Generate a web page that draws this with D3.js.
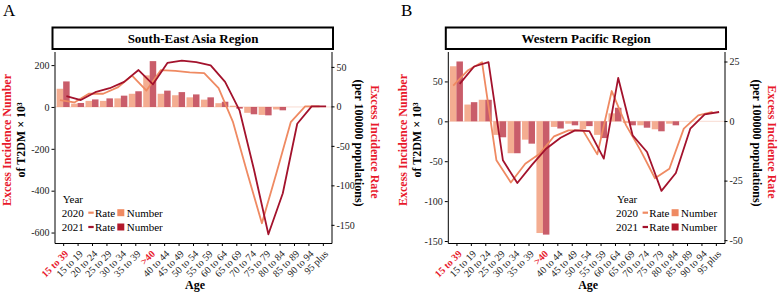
<!DOCTYPE html>
<html><head><meta charset="utf-8">
<script src="https://cdn.jsdelivr.net/npm/d3@7"></script>
<style>
body{margin:0;background:#fff}
svg{font-family:"Liberation Serif","Times New Roman",serif}
</style>
</head><body>
<svg id="c" width="778" height="292"></svg>
<script>
// ---- data ----
const ages = ["15 to 39","15 to 19","20 to 24","25 to 29","30 to 34","35 to 39",">40",
  "40 to 44","45 to 49","50 to 54","55 to 59","60 to 64","65 to 69","70 to 74",
  "75 to 79","80 to 84","85 to 89","90 to 94","95 plus"];
const highlightAges = ["15 to 39", ">40"];
const years = ["2020", "2021"];

// South-East Asia Region
const seaNumber2020 = [87, 16, 29, 29, 41, 63, 151, 63, 56, 46, 35, 18, 6, -28, -38, -12, 0, 0, 0];
const seaNumber2021 = [122, 19, 36, 41, 54, 75, 219, 78, 71, 60, 46, 25, -8, -35, -40, -16, 0, 0, 0];
const seaRate2020 = [8, 5, 16, 16, 24, 39, 20, 46, 45, 43, 42, 23, -20, -85, -148, -85, -20, 0, 0];
const seaRate2021 = [13, 8, 18, 23, 31, 46, 28, 55, 58, 56, 52, 31, -5, -80, -162, -110, -22, 0, 0];
const seaNumberTicks = [200, 0, -200, -400, -600];
const seaRateTicks = [50, 0, -50, -100, -150];

// Western Pacific Region
const wprNumber2020 = [69, 21, 27, -17, -40, -23, -140, -7, -3, -10, -17, 10, -2, -5, -10, -3, 0, 0, 0];
const wprNumber2021 = [75, 24, 27, -20, -40, -28, -142, -9, -5, -6, -21, 17, -5, -8, -12.5, -5, 0, 0, 0];
const wprRate2020 = [14.9, 21.2, 24.7, -16.5, -25.8, -17.9, -13.7, -6.4, -3.9, -3.9, -14, 12.6, -1.8, -12.3, -24, -20, -3.2, 2.4, 3.8];
const wprRate2021 = [15.6, 22.9, 24.7, -16.5, -26, -18.5, -11.6, -7, -3.9, -4.2, -15.8, 18.1, -6, -13, -29.3, -21.8, -3.2, 2.8, 3.8];
const wprNumberTicks = [50, 0, -50, -100, -150];
const wprRateTicks = [25, 0, -25, -50];

// ---- styles ----
const barColors = ["#ef8a62", "#b2182b"];
const lineColors = ["#ef8a62", "#a3122c"];
const red = "#e8192c";
const serif = "Liberation Serif, Times New Roman, serif";

const panels = [
  {letter:"A", title:"South-East Asia Region", x0:54.5, x1:331.5,
   num:[seaNumber2020, seaNumber2021], rate:[seaRate2020, seaRate2021],
   numDomain:[-650, 265], rateDomain:[-173, 69.5],
   numTicks:seaNumberTicks, rateTicks:seaRateTicks,
   legendX:61.7, letterX:3, lt:[11, 25], rt:[355, 371]},
  {letter:"B", title:"Western Pacific Region", x0:447.8, x1:724.5,
   num:[wprNumber2020, wprNumber2021], rate:[wprRate2020, wprRate2021],
   numDomain:[-152.5, 87.5], rateDomain:[-51.2, 29.2],
   numTicks:wprNumberTicks, rateTicks:wprRateTicks,
   legendX:616, letterX:401, lt:[406.5, 421], rt:[752.5, 767.5]}
];

const svg = d3.select("#c");
const yTop = 51.5, yBot = 243;
const fmt = d => String(d);

panels.forEach(p => {
  const g = svg.append("g");
  const x = d3.scalePoint().domain(ages).range([p.x0, p.x1]).padding(0.6);
  const step = x.step();
  const bw = step * 0.45;
  const yL = d3.scaleLinear().domain(p.numDomain).range([yBot, yTop]);
  const yR = d3.scaleLinear().domain(p.rateDomain).range([yBot, yTop]);

  // panel letter
  g.append("text").attr("x", p.letterX).attr("y", 16).attr("font-size", 17).text(p.letter);

  // header strip
  g.append("rect").attr("x", p.x0 - 2).attr("y", 27.5).attr("width", p.x1 - p.x0 + 3.5)
    .attr("height", 21.5).attr("fill", "#fff").attr("stroke", "#000").attr("stroke-width", 2);
  g.append("text").attr("x", (p.x0 + p.x1) / 2).attr("y", 43).attr("text-anchor", "middle")
    .attr("font-weight", "bold").attr("font-size", 13).text(p.title);

  // zero reference line
  g.append("line").attr("x1", p.x0).attr("x2", p.x1).attr("y1", yL(0)).attr("y2", yL(0))
    .attr("stroke", "#f4c4b4").attr("stroke-width", 0.6);

  // bars
  years.forEach((yr, k) => {
    g.append("g").selectAll("rect").data(p.num[k]).join("rect")
      .attr("x", (d, i) => x(ages[i]) - bw + k * bw)
      .attr("width", bw)
      .attr("y", d => Math.min(yL(d), yL(0)))
      .attr("height", d => Math.abs(yL(d) - yL(0)))
      .attr("fill", barColors[k]).attr("fill-opacity", 0.7);
  });

  // rate lines
  years.forEach((yr, k) => {
    const off = (k === 0 ? -bw / 2 : bw / 2);
    const line = d3.line().x((d, i) => x(ages[i]) + off).y(d => yR(d));
    g.append("path").datum(p.rate[k]).attr("d", line)
      .attr("fill", "none").attr("stroke", lineColors[k]).attr("stroke-width", 1.8)
      .attr("stroke-linejoin", "round");
  });

  // axes
  const ax = g.append("g").attr("transform", `translate(${p.x0},0)`)
    .call(d3.axisLeft(yL).tickValues(p.numTicks).tickFormat(fmt).tickSize(3).tickSizeOuter(0).tickPadding(2));
  const axR = g.append("g").attr("transform", `translate(${p.x1},0)`)
    .call(d3.axisRight(yR).tickValues(p.rateTicks).tickFormat(fmt).tickSize(3).tickSizeOuter(0).tickPadding(2));
  const axB = g.append("g").attr("transform", `translate(0,${yBot})`)
    .call(d3.axisBottom(x).tickSize(3).tickSizeOuter(0));
  [ax, axR, axB].forEach(a => {
    a.attr("font-family", serif).attr("font-size", 10);
    a.selectAll("path,line").attr("stroke", "#000").attr("stroke-width", 1);
    a.selectAll("text").attr("font-family", serif).attr("font-size", 10).attr("fill", "#222");
  });
  axB.selectAll("text")
    .attr("y", 0).attr("x", 0).attr("dy", "0.35em")
    .attr("text-anchor", "end")
    .attr("transform", "translate(3,9) rotate(-45)")
    .attr("fill", d => highlightAges.includes(d) ? red : "#222")
    .attr("font-weight", d => highlightAges.includes(d) ? "bold" : "normal");

  // axis titles
  g.append("text").attr("transform", `translate(${p.lt[0]},140) rotate(-90)`)
    .attr("text-anchor", "middle").attr("font-weight", "bold").attr("font-size", 12)
    .attr("fill", red).text("Excess Incidence Number");
  g.append("text").attr("transform", `translate(${p.lt[1]},140) rotate(-90)`)
    .attr("text-anchor", "middle").attr("font-weight", "bold").attr("font-size", 12)
    .attr("fill", "#000").text("of T2DM × 10³");
  g.append("text").attr("transform", `translate(${p.rt[0]},143) rotate(90)`)
    .attr("text-anchor", "middle").attr("font-weight", "bold").attr("font-size", 12)
    .attr("fill", "#000").text("(per 100000 populations)");
  g.append("text").attr("transform", `translate(${p.rt[1]},142) rotate(90)`)
    .attr("text-anchor", "middle").attr("font-weight", "bold").attr("font-size", 12)
    .attr("fill", red).text("Excess Incidence Rate");
  g.append("text").attr("x", (p.x0 + p.x1) / 2 + 2).attr("y", 289).attr("text-anchor", "middle")
    .attr("font-weight", "bold").attr("font-size", 12).text("Age");

  // legend
  const lg = g.append("g").attr("transform", `translate(${p.legendX},0)`).attr("font-size", 11);
  lg.append("text").attr("x", 1).attr("y", 203).text("Year");
  years.forEach((yr, k) => {
    const cy = 212.7 + k * 14.3;
    lg.append("text").attr("x", 0).attr("y", cy + 3.8).text(yr);
    lg.append("line").attr("x1", 26.6).attr("x2", 32).attr("y1", cy).attr("y2", cy)
      .attr("stroke", lineColors[k]).attr("stroke-width", 2.2);
    lg.append("text").attr("x", 33.3).attr("y", cy + 3.8).text("Rate");
    lg.append("rect").attr("x", 55.6).attr("y", cy - 3.5).attr("width", 7).attr("height", 7)
      .attr("fill", barColors[k]);
    lg.append("text").attr("x", 65).attr("y", cy + 3.8).text("Number");
  });
});
</script>
</body></html>
